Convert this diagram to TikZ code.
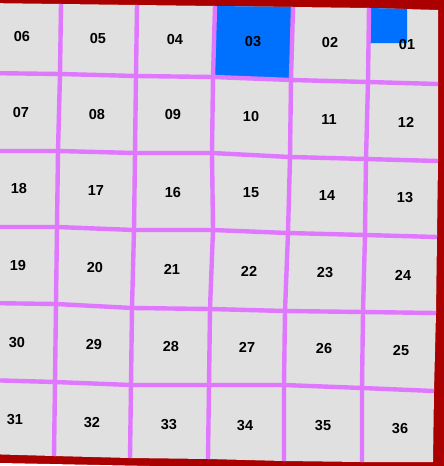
\documentclass[tikz,border=0pt]{standalone}
\usepackage{fontspec}
\setmainfont{Liberation Sans}
\usepackage{xcolor}
\definecolor{frame}{RGB}{170,0,0}
\definecolor{cellgray}{RGB}{224,224,224}
\definecolor{gridpurple}{RGB}{224,120,255}
\definecolor{markblue}{RGB}{0,112,255}

\begin{document}
\begin{tikzpicture}[x=1pt, y=-1pt,
  gridline/.style={draw=gridpurple, line width=4.4pt},
  cellnum/.style={inner sep=0pt, font=\bfseries\fontsize{14.5}{16}\selectfont}]
\useasboundingbox (0,0) rectangle (444,466);
\clip (0,0) rectangle (444,466);
% grid corners, one row of boundaries at a time
\foreach \pts [count=\j from 0] in {
  {-16/3, 61/4, 137/5, 215/6, 293/7, 369/8, 438/10},
  {-16/73, 60/74, 136/76, 213/77, 291/80, 368/82, 438/84},
  {-16/151, 58/151, 135/153, 212/153, 290/157, 366/159, 438/161},
  {-16/227, 57/227, 134/230, 213/230, 288/233, 365/235, 437/237},
  {-16/303, 56/304, 132/308, 210/309, 285/311, 363/312, 436/313},
  {-16/380, 55/382, 131/385, 209/385, 284/385, 362/388, 434/391},
  {-16/454, 54/456, 130/458, 208/459, 284/461, 362/462, 433/462}}
  \foreach \px/\py [count=\i from 0] in \pts
    \coordinate (p-\i-\j) at (\px,\py);
% frame and board
\fill[frame] (0,0) rectangle (444,466);
\fill[white] (0,463) -- (150,466) -- (0,466) -- cycle;
\fill[cellgray] (p-0-0) \foreach \i in {1,...,6} { -- (p-\i-0)}
  \foreach \j in {1,...,6} { -- (p-6-\j)}
  \foreach \i in {5,...,0} { -- (p-\i-6)} -- cycle;
% marked cells
\fill[markblue] (p-3-0) -- (p-4-0) -- (p-4-1) -- (p-3-1) -- cycle;
\fill[markblue] (p-5-0) -- (407,9) -- (407,43) -- (369,43) -- cycle;
% grid lines
\foreach \j in {1,...,5}
  \draw[gridline] (p-0-\j) \foreach \i in {1,...,6} { -- (p-\i-\j)};
\foreach \i in {1,...,5}
  \draw[gridline] (p-\i-0) \foreach \j in {1,...,6} { -- (p-\i-\j)};
% cell numbers
\foreach \lbl/\lx/\ly in {
  06/22/37, 05/98/39, 04/175/40, 03/253/42, 02/330/43, 01/407/45,
  07/21/113, 08/97/115, 09/173/115, 10/251/117, 11/329/120, 12/406/122,
  18/19/189, 17/96/191, 16/173/193, 15/251/193, 14/327/196, 13/405/198,
  19/18/266, 20/95/268, 21/172/269, 22/249/271, 23/325/273, 24/403/275,
  30/17/343, 29/94/345, 28/171/347, 27/247/347, 26/324/349, 25/401/351,
  31/15/420, 32/92/423, 33/169/425, 34/245/426, 35/323/426, 36/400/429}
  \node[cellnum] (n\lbl) at (\lx,\ly) {\lbl};
\end{tikzpicture}
\end{document}
